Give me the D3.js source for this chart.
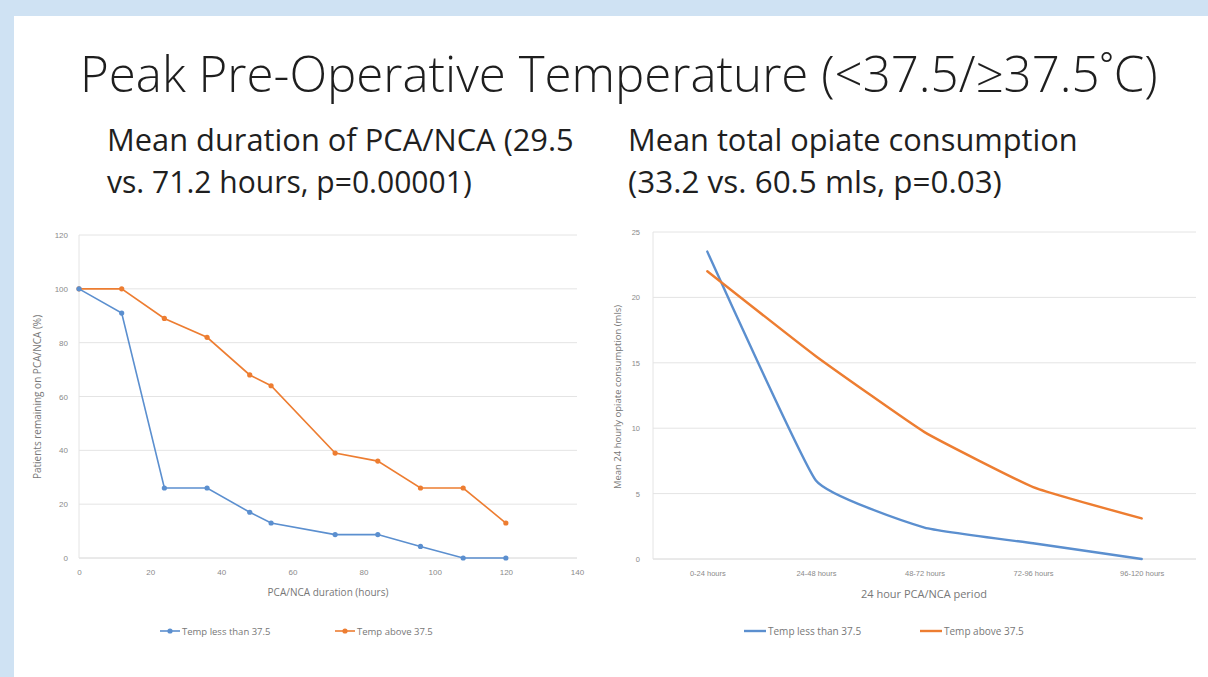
<!DOCTYPE html>
<html>
<head>
<meta charset="utf-8">
<script src="https://cdn.jsdelivr.net/npm/d3@7"></script>
<style>
  html, body { margin: 0; padding: 0; background: #cfe2f3; }
  svg { display: block; font-family: "Open Sans", "Noto Sans", sans-serif; }
  .tick text { fill: #8a8a8a; }
</style>
</head>
<body>
<div id="slide"></div>
<script>
// Size of the slide
const WIDTH = 1208;
const HEIGHT = 677;

// Left chart: survival on PCA/NCA
const hours = [0, 12, 24, 36, 48, 54, 72, 84, 96, 108, 120];
const remainingLow = [100, 91, 26, 26, 17, 13, 8.7, 8.7, 4.3, 0, 0];
const remainingHigh = [100, 100, 89, 82, 68, 64, 39, 36, 26, 26, 13];
const leftXTicks = [0, 20, 40, 60, 80, 100, 120, 140];
const leftYTicks = [0, 20, 40, 60, 80, 100, 120];

// Right chart: opiate consumption per 24h period
const periods = ["0-24 hours", "24-48 hours", "48-72 hours", "72-96 hours", "96-120 hours"];
const opiateLow = [23.5, 6.0, 2.4, 1.2, 0];
const opiateHigh = [22.0, 15.5, 9.7, 5.5, 3.1];
const rightYTicks = [0, 5, 10, 15, 20, 25];

const seriesNames = ["Temp less than 37.5", "Temp above 37.5"];
const BLUE = "#5b8fcf";
const ORANGE = "#ed7d31";

const svg = d3
  .select("#slide")
  .append("svg")
  .attr("width", WIDTH)
  .attr("height", HEIGHT);

// Blue frame, then the white slide
svg.append("rect").attr("width", WIDTH).attr("height", HEIGHT).attr("fill", "#cfe2f3");
svg.append("rect")
  .attr("x", 14).attr("y", 16)
  .attr("width", WIDTH - 14).attr("height", HEIGHT - 16)
  .attr("fill", "#fff");

// Stretch a text's font size so it spans a given width
function fitText(sel, width, start) {
  sel.style("font-size", start + "px");
  const w = sel.node().getComputedTextLength();
  sel.style("font-size", (start * width / w) + "px");
}

// Titles
const title = svg.append("text")
  .attr("x", 80).attr("y", 92)
  .attr("fill", "#1e1e1e")
  .style("font-weight", 300)
  .text("Peak Pre-Operative Temperature (<37.5/≥37.5˚C)");
fitText(title, 1078, 44);

const subLines = [
  { x: 107, y: 151, t: "Mean duration of PCA/NCA (29.5", w: 467 },
  { x: 107, y: 193, t: "vs. 71.2 hours, p=0.00001)", w: 365 },
  { x: 628, y: 151, t: "Mean total opiate consumption", w: 450 },
  { x: 628, y: 193, t: "(33.2 vs. 60.5 mls, p=0.03)", w: 374 }
];
subLines.forEach((s) => {
  const t = svg.append("text")
    .attr("x", s.x).attr("y", s.y)
    .attr("fill", "#1f1f1f")
    .text(s.t);
  fitText(t, s.w, 27);
});

// ---------- Left chart ----------
const x1 = d3.scaleLinear().domain([0, 140]).range([79, 577]);
const y1 = d3.scaleLinear().domain([0, 120]).range([558, 235]);

const g1 = svg.append("g");

g1.selectAll("line.grid")
  .data(leftYTicks.slice(1))
  .enter()
  .append("line")
  .attr("class", "grid")
  .attr("x1", x1(0)).attr("x2", x1(140))
  .attr("y1", (d) => y1(d)).attr("y2", (d) => y1(d))
  .attr("stroke", "#e4e4e4");

g1.append("line")
  .attr("x1", x1(0)).attr("x2", x1(140))
  .attr("y1", y1(0)).attr("y2", y1(0))
  .attr("stroke", "#d4d4d4");
g1.append("line")
  .attr("x1", x1(0)).attr("x2", x1(0))
  .attr("y1", y1(0)).attr("y2", y1(120))
  .attr("stroke", "#e4e4e4");

g1.append("g")
  .attr("transform", "translate(0," + y1(0) + ")")
  .call(d3.axisBottom(x1).tickValues(leftXTicks).tickSize(0).tickPadding(11))
  .call((a) => a.select(".domain").remove())
  .selectAll("text").style("font-size", "8px");

g1.append("g")
  .attr("transform", "translate(" + x1(0) + ",0)")
  .call(d3.axisLeft(y1).tickValues(leftYTicks).tickSize(0).tickPadding(11))
  .call((a) => a.select(".domain").remove())
  .selectAll("text").style("font-size", "8px");

const line1 = d3.line().x((d) => x1(d[0])).y((d) => y1(d[1]));

[[remainingHigh, ORANGE], [remainingLow, BLUE]].forEach(([vals, col]) => {
  const pts = hours.map((h, i) => [h, vals[i]]);
  g1.append("path")
    .datum(pts)
    .attr("d", line1)
    .attr("fill", "none")
    .attr("stroke", col)
    .attr("stroke-width", 1.6);
  g1.selectAll(null)
    .data(pts)
    .enter()
    .append("circle")
    .attr("cx", (d) => x1(d[0]))
    .attr("cy", (d) => y1(d[1]))
    .attr("r", 2.6)
    .attr("fill", col);
});

g1.append("text")
  .attr("x", 328).attr("y", 596)
  .attr("text-anchor", "middle")
  .attr("fill", "#777")
  .style("font-size", "10px")
  .text("PCA/NCA duration (hours)");

g1.append("text")
  .attr("transform", "translate(41,397) rotate(-90)")
  .attr("text-anchor", "middle")
  .attr("fill", "#777")
  .style("font-size", "10px")
  .text("Patients remaining on PCA/NCA (%)");

// Left legend
[[160, BLUE, seriesNames[0]], [335, ORANGE, seriesNames[1]]].forEach(([lx, col, name]) => {
  g1.append("line")
    .attr("x1", lx).attr("x2", lx + 20)
    .attr("y1", 631).attr("y2", 631)
    .attr("stroke", col).attr("stroke-width", 1.6);
  g1.append("circle").attr("cx", lx + 10).attr("cy", 631).attr("r", 2.6).attr("fill", col);
  g1.append("text")
    .attr("x", lx + 22).attr("y", 634.5)
    .attr("fill", "#777")
    .style("font-size", "9.5px")
    .text(name);
});

// ---------- Right chart ----------
const x2 = d3.scalePoint().domain(periods).range([653, 1196]).padding(0.5);
const y2 = d3.scaleLinear().domain([0, 25]).range([559, 232]);

const g2 = svg.append("g");

g2.selectAll("line.grid")
  .data(rightYTicks.slice(1))
  .enter()
  .append("line")
  .attr("class", "grid")
  .attr("x1", 653).attr("x2", 1196)
  .attr("y1", (d) => y2(d)).attr("y2", (d) => y2(d))
  .attr("stroke", "#e4e4e4");

g2.append("line")
  .attr("x1", 653).attr("x2", 1196)
  .attr("y1", y2(0)).attr("y2", y2(0))
  .attr("stroke", "#d4d4d4");
g2.append("line")
  .attr("x1", 653).attr("x2", 653)
  .attr("y1", y2(0)).attr("y2", y2(25))
  .attr("stroke", "#e4e4e4");

g2.append("g")
  .attr("transform", "translate(0," + y2(0) + ")")
  .call(d3.axisBottom(x2).tickSize(0).tickPadding(12))
  .call((a) => a.select(".domain").remove())
  .selectAll("text").style("font-size", "7.5px");

g2.append("g")
  .attr("transform", "translate(653,0)")
  .call(d3.axisLeft(y2).tickValues(rightYTicks).tickSize(0).tickPadding(13))
  .call((a) => a.select(".domain").remove())
  .selectAll("text").style("font-size", "7.5px");

// Excel-style lightly smoothed lines
const line2 = d3.line()
  .x((d) => x2(d[0]))
  .y((d) => y2(d[1]))
  .curve(d3.curveCardinal.tension(0.65));

[[opiateLow, BLUE], [opiateHigh, ORANGE]].forEach(([vals, col]) => {
  g2.append("path")
    .datum(periods.map((p, i) => [p, vals[i]]))
    .attr("d", line2)
    .attr("fill", "none")
    .attr("stroke", col)
    .attr("stroke-width", 2.4)
    .attr("stroke-linecap", "round");
});

g2.append("text")
  .attr("x", 924).attr("y", 598)
  .attr("text-anchor", "middle")
  .attr("fill", "#777")
  .style("font-size", "11px")
  .text("24 hour PCA/NCA period");

g2.append("text")
  .attr("transform", "translate(621,397) rotate(-90)")
  .attr("text-anchor", "middle")
  .attr("fill", "#777")
  .style("font-size", "9.5px")
  .text("Mean 24 hourly opiate consumption (mls)");

// Right legend
[[744, BLUE, seriesNames[0]], [920, ORANGE, seriesNames[1]]].forEach(([lx, col, name]) => {
  g2.append("line")
    .attr("x1", lx).attr("x2", lx + 22)
    .attr("y1", 631).attr("y2", 631)
    .attr("stroke", col).attr("stroke-width", 2.4);
  g2.append("text")
    .attr("x", lx + 24).attr("y", 634.5)
    .attr("fill", "#777")
    .style("font-size", "10px")
    .text(name);
});
</script>
</body>
</html>
